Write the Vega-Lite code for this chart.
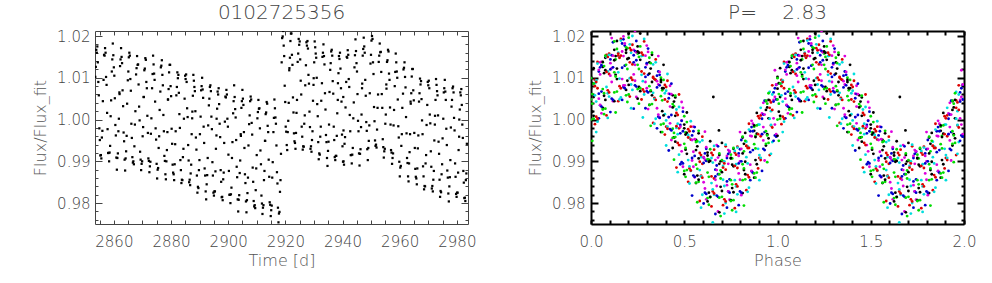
{
"$schema": "https://vega.github.io/schema/vega-lite/v6.json",
"background": "white",
"padding": {"left": 32, "top": 3, "right": 5, "bottom": 5},
"config": {
"font": "DejaVu Sans",
"view": {"stroke": null},
"axis": {"grid": false, "labelFont": "DejaVu Sans", "labelFontSize": 15, "labelFontWeight": 200, "labelColor": "#444", "titleFont": "DejaVu Sans", "titleFontSize": 16, "titleFontWeight": 200, "titleColor": "#555", "labelFlush": false, "labelOverlap": false, "tickSize": -4}
},
"data": {"values": [
{"t":2853.50,"p":0,"f":1.0102,"c":0},{"t":2853.68,"p":0.063,"f":1.0126,"c":0},{"t":2853.85,"p":0.125,"f":1.0167,"c":0},{"t":2854.03,"p":0.188,"f":1.0160,"c":0},{"t":2854.21,"p":0.25,"f":1.0175,"c":0},{"t":2854.38,"p":0.313,"f":1.0137,"c":0},{"t":2854.56,"p":0.375,"f":1.0090,"c":0},{"t":2854.74,"p":0.438,"f":1.0058,"c":0},{"t":2854.92,"p":0.5,"f":0.9979,"c":0},{"t":2855.09,"p":0.563,"f":0.9951,"c":0},{"t":2855.27,"p":0.625,"f":0.9914,"c":0},{"t":2855.45,"p":0.688,"f":0.9915,"c":0},{"t":2855.62,"p":0.75,"f":0.9907,"c":0},{"t":2855.80,"p":0.813,"f":0.9957,"c":0},{"t":2855.98,"p":0.875,"f":0.9973,"c":0},{"t":2856.15,"p":0.938,"f":1.0044,"c":0},
{"t":2856.39,"p":0.021,"f":1.0095,"c":1},{"t":2856.57,"p":0.083,"f":1.0155,"c":1},{"t":2856.74,"p":0.146,"f":1.0153,"c":1},{"t":2856.92,"p":0.208,"f":1.0171,"c":1},{"t":2857.10,"p":0.271,"f":1.0160,"c":1},{"t":2857.27,"p":0.333,"f":1.0102,"c":1},{"t":2857.45,"p":0.396,"f":1.0083,"c":1},{"t":2857.63,"p":0.458,"f":1.0016,"c":1},{"t":2857.80,"p":0.521,"f":0.9977,"c":1},{"t":2857.98,"p":0.583,"f":0.9920,"c":1},{"t":2858.16,"p":0.646,"f":0.9920,"c":1},{"t":2858.33,"p":0.708,"f":0.9900,"c":1},{"t":2858.51,"p":0.771,"f":0.9921,"c":1},{"t":2858.69,"p":0.833,"f":0.9937,"c":1},{"t":2858.87,"p":0.896,"f":1.0008,"c":1},{"t":2859.04,"p":0.958,"f":1.0046,"c":1},
{"t":2859.28,"p":0.042,"f":1.0115,"c":2},{"t":2859.45,"p":0.104,"f":1.0144,"c":2},{"t":2859.63,"p":0.167,"f":1.0182,"c":2},{"t":2859.81,"p":0.229,"f":1.0154,"c":2},{"t":2859.99,"p":0.292,"f":1.0125,"c":2},{"t":2860.16,"p":0.354,"f":1.0105,"c":2},{"t":2860.34,"p":0.417,"f":1.0051,"c":2},{"t":2860.52,"p":0.479,"f":0.9987,"c":2},{"t":2860.69,"p":0.542,"f":0.9962,"c":2},{"t":2860.87,"p":0.604,"f":0.9909,"c":2},{"t":2861.05,"p":0.667,"f":0.9880,"c":2},{"t":2861.22,"p":0.729,"f":0.9908,"c":2},{"t":2861.40,"p":0.792,"f":0.9919,"c":2},{"t":2861.58,"p":0.854,"f":0.9972,"c":2},{"t":2861.75,"p":0.917,"f":1.0002,"c":2},{"t":2861.93,"p":0.979,"f":1.0065,"c":2},
{"t":2861.99,"p":0.007,"f":1.0061,"c":3},{"t":2862.17,"p":0.070,"f":1.0128,"c":3},{"t":2862.34,"p":0.132,"f":1.0144,"c":3},{"t":2862.52,"p":0.195,"f":1.0171,"c":3},{"t":2862.70,"p":0.257,"f":1.0150,"c":3},{"t":2862.87,"p":0.320,"f":1.0135,"c":3},{"t":2863.05,"p":0.382,"f":1.0070,"c":3},{"t":2863.23,"p":0.445,"f":1.0032,"c":3},{"t":2863.41,"p":0.507,"f":0.9969,"c":3},{"t":2863.58,"p":0.570,"f":0.9948,"c":3},{"t":2863.76,"p":0.632,"f":0.9904,"c":3},{"t":2863.94,"p":0.695,"f":0.9878,"c":3},{"t":2864.11,"p":0.757,"f":0.9907,"c":3},{"t":2864.29,"p":0.820,"f":0.9924,"c":3},{"t":2864.47,"p":0.882,"f":0.9961,"c":3},{"t":2864.64,"p":0.945,"f":1.0038,"c":3},
{"t":2864.88,"p":0.028,"f":1.0094,"c":4},{"t":2865.06,"p":0.090,"f":1.0115,"c":4},{"t":2865.23,"p":0.153,"f":1.0149,"c":4},{"t":2865.41,"p":0.215,"f":1.0160,"c":4},{"t":2865.59,"p":0.278,"f":1.0153,"c":4},{"t":2865.76,"p":0.340,"f":1.0097,"c":4},{"t":2865.94,"p":0.403,"f":1.0069,"c":4},{"t":2866.12,"p":0.465,"f":0.9990,"c":4},{"t":2866.29,"p":0.528,"f":0.9956,"c":4},{"t":2866.47,"p":0.590,"f":0.9910,"c":4},{"t":2866.65,"p":0.653,"f":0.9897,"c":4},{"t":2866.82,"p":0.715,"f":0.9900,"c":4},{"t":2867.00,"p":0.778,"f":0.9893,"c":4},{"t":2867.18,"p":0.840,"f":0.9936,"c":4},{"t":2867.36,"p":0.903,"f":0.9988,"c":4},{"t":2867.53,"p":0.965,"f":1.0020,"c":4},
{"t":2867.77,"p":0.049,"f":1.0108,"c":5},{"t":2867.94,"p":0.111,"f":1.0123,"c":5},{"t":2868.12,"p":0.174,"f":1.0152,"c":5},{"t":2868.30,"p":0.236,"f":1.0131,"c":5},{"t":2868.48,"p":0.299,"f":1.0132,"c":5},{"t":2868.65,"p":0.361,"f":1.0084,"c":5},{"t":2868.83,"p":0.424,"f":1.0031,"c":5},{"t":2869.01,"p":0.486,"f":0.9998,"c":5},{"t":2869.18,"p":0.549,"f":0.9923,"c":5},{"t":2869.36,"p":0.611,"f":0.9904,"c":5},{"t":2869.54,"p":0.674,"f":0.9879,"c":5},{"t":2869.71,"p":0.736,"f":0.9894,"c":5},{"t":2869.89,"p":0.799,"f":0.9900,"c":5},{"t":2870.07,"p":0.861,"f":0.9960,"c":5},{"t":2870.24,"p":0.924,"f":0.9982,"c":5},{"t":2870.42,"p":0.986,"f":1.0054,"c":5},
{"t":2870.48,"p":0.014,"f":1.0054,"c":0},{"t":2870.66,"p":0.077,"f":1.0118,"c":0},{"t":2870.83,"p":0.139,"f":1.0122,"c":0},{"t":2871.01,"p":0.202,"f":1.0147,"c":0},{"t":2871.19,"p":0.264,"f":1.0143,"c":0},{"t":2871.36,"p":0.327,"f":1.0090,"c":0},{"t":2871.54,"p":0.389,"f":1.0075,"c":0},{"t":2871.72,"p":0.452,"f":1.0009,"c":0},{"t":2871.90,"p":0.514,"f":0.9968,"c":0},{"t":2872.07,"p":0.577,"f":0.9907,"c":0},{"t":2872.25,"p":0.639,"f":0.9901,"c":0},{"t":2872.43,"p":0.702,"f":0.9874,"c":0},{"t":2872.60,"p":0.764,"f":0.9888,"c":0},{"t":2872.78,"p":0.827,"f":0.9899,"c":0},{"t":2872.96,"p":0.889,"f":0.9966,"c":0},{"t":2873.13,"p":0.952,"f":1.0003,"c":0},
{"t":2873.37,"p":0.035,"f":1.0075,"c":1},{"t":2873.55,"p":0.097,"f":1.0109,"c":1},{"t":2873.72,"p":0.160,"f":1.0153,"c":1},{"t":2873.90,"p":0.222,"f":1.0132,"c":1},{"t":2874.08,"p":0.285,"f":1.0110,"c":1},{"t":2874.25,"p":0.347,"f":1.0095,"c":1},{"t":2874.43,"p":0.410,"f":1.0043,"c":1},{"t":2874.61,"p":0.472,"f":0.9979,"c":1},{"t":2874.78,"p":0.535,"f":0.9952,"c":1},{"t":2874.96,"p":0.597,"f":0.9894,"c":1},{"t":2875.14,"p":0.660,"f":0.9859,"c":1},{"t":2875.31,"p":0.722,"f":0.9880,"c":1},{"t":2875.49,"p":0.785,"f":0.9884,"c":1},{"t":2875.67,"p":0.847,"f":0.9932,"c":1},{"t":2875.85,"p":0.910,"f":0.9960,"c":1},{"t":2876.02,"p":0.972,"f":1.0023,"c":1},
{"t":2876.26,"p":0.056,"f":1.0067,"c":2},{"t":2876.43,"p":0.118,"f":1.0125,"c":2},{"t":2876.61,"p":0.181,"f":1.0129,"c":2},{"t":2876.79,"p":0.243,"f":1.0142,"c":2},{"t":2876.97,"p":0.306,"f":1.0107,"c":2},{"t":2877.14,"p":0.368,"f":1.0082,"c":2},{"t":2877.32,"p":0.431,"f":1.0011,"c":2},{"t":2877.50,"p":0.493,"f":0.9972,"c":2},{"t":2877.67,"p":0.556,"f":0.9913,"c":2},{"t":2877.85,"p":0.618,"f":0.9901,"c":2},{"t":2878.03,"p":0.681,"f":0.9869,"c":2},{"t":2878.20,"p":0.743,"f":0.9857,"c":2},{"t":2878.38,"p":0.806,"f":0.9900,"c":2},{"t":2878.56,"p":0.868,"f":0.9927,"c":2},{"t":2878.73,"p":0.931,"f":0.9970,"c":2},{"t":2878.91,"p":0.993,"f":1.0048,"c":2},
{"t":2878.97,"p":0,"f":1.0048,"c":3},{"t":2879.15,"p":0.063,"f":1.0073,"c":3},{"t":2879.32,"p":0.125,"f":1.0113,"c":3},{"t":2879.50,"p":0.188,"f":1.0131,"c":3},{"t":2879.68,"p":0.25,"f":1.0131,"c":3},{"t":2879.85,"p":0.313,"f":1.0080,"c":3},{"t":2880.03,"p":0.375,"f":1.0056,"c":3},{"t":2880.21,"p":0.438,"f":0.9978,"c":3},{"t":2880.39,"p":0.5,"f":0.9942,"c":3},{"t":2880.56,"p":0.563,"f":0.9892,"c":3},{"t":2880.74,"p":0.625,"f":0.9873,"c":3},{"t":2880.92,"p":0.688,"f":0.9869,"c":3},{"t":2881.09,"p":0.75,"f":0.9855,"c":3},{"t":2881.27,"p":0.813,"f":0.9893,"c":3},{"t":2881.45,"p":0.875,"f":0.9941,"c":3},{"t":2881.62,"p":0.938,"f":0.9972,"c":3},
{"t":2881.86,"p":0.021,"f":1.0058,"c":4},{"t":2882.04,"p":0.083,"f":1.0078,"c":4},{"t":2882.21,"p":0.146,"f":1.0113,"c":4},{"t":2882.39,"p":0.208,"f":1.0099,"c":4},{"t":2882.57,"p":0.271,"f":1.0107,"c":4},{"t":2882.74,"p":0.333,"f":1.0064,"c":4},{"t":2882.92,"p":0.396,"f":1.0013,"c":4},{"t":2883.10,"p":0.458,"f":0.9980,"c":4},{"t":2883.27,"p":0.521,"f":0.9903,"c":4},{"t":2883.45,"p":0.583,"f":0.9879,"c":4},{"t":2883.63,"p":0.646,"f":0.9848,"c":4},{"t":2883.80,"p":0.708,"f":0.9856,"c":4},{"t":2883.98,"p":0.771,"f":0.9855,"c":4},{"t":2884.16,"p":0.833,"f":0.9910,"c":4},{"t":2884.34,"p":0.896,"f":0.9930,"c":4},{"t":2884.51,"p":0.958,"f":1.0002,"c":4},
{"t":2884.75,"p":0.042,"f":1.0050,"c":5},{"t":2884.92,"p":0.104,"f":1.0105,"c":5},{"t":2885.10,"p":0.167,"f":1.0097,"c":5},{"t":2885.28,"p":0.229,"f":1.0108,"c":5},{"t":2885.46,"p":0.292,"f":1.0090,"c":5},{"t":2885.63,"p":0.354,"f":1.0027,"c":5},{"t":2885.81,"p":0.417,"f":1.0006,"c":5},{"t":2885.99,"p":0.479,"f":0.9939,"c":5},{"t":2886.16,"p":0.542,"f":0.9902,"c":5},{"t":2886.34,"p":0.604,"f":0.9850,"c":5},{"t":2886.52,"p":0.667,"f":0.9856,"c":5},{"t":2886.69,"p":0.729,"f":0.9843,"c":5},{"t":2886.87,"p":0.792,"f":0.9871,"c":5},{"t":2887.05,"p":0.854,"f":0.9892,"c":5},{"t":2887.22,"p":0.917,"f":0.9965,"c":5},{"t":2887.40,"p":0.979,"f":1.0003,"c":5},
{"t":2887.46,"p":0.007,"f":1.0019,"c":0},{"t":2887.64,"p":0.070,"f":1.0057,"c":0},{"t":2887.81,"p":0.132,"f":1.0107,"c":0},{"t":2887.99,"p":0.195,"f":1.0093,"c":0},{"t":2888.17,"p":0.257,"f":1.0078,"c":0},{"t":2888.34,"p":0.320,"f":1.0068,"c":0},{"t":2888.52,"p":0.382,"f":1.0020,"c":0},{"t":2888.70,"p":0.445,"f":0.9957,"c":0},{"t":2888.88,"p":0.507,"f":0.9928,"c":0},{"t":2889.05,"p":0.570,"f":0.9866,"c":0},{"t":2889.23,"p":0.632,"f":0.9825,"c":0},{"t":2889.41,"p":0.695,"f":0.9839,"c":0},{"t":2889.58,"p":0.757,"f":0.9836,"c":0},{"t":2889.76,"p":0.820,"f":0.9879,"c":0},{"t":2889.94,"p":0.882,"f":0.9903,"c":0},{"t":2890.11,"p":0.945,"f":0.9965,"c":0},
{"t":2890.35,"p":0.028,"f":1.0007,"c":1},{"t":2890.53,"p":0.090,"f":1.0070,"c":1},{"t":2890.70,"p":0.153,"f":1.0080,"c":1},{"t":2890.88,"p":0.215,"f":1.0100,"c":1},{"t":2891.06,"p":0.278,"f":1.0072,"c":1},{"t":2891.23,"p":0.340,"f":1.0052,"c":1},{"t":2891.41,"p":0.403,"f":0.9983,"c":1},{"t":2891.59,"p":0.465,"f":0.9944,"c":1},{"t":2891.76,"p":0.528,"f":0.9883,"c":1},{"t":2891.94,"p":0.590,"f":0.9866,"c":1},{"t":2892.12,"p":0.653,"f":0.9828,"c":1},{"t":2892.29,"p":0.715,"f":0.9809,"c":1},{"t":2892.47,"p":0.778,"f":0.9845,"c":1},{"t":2892.65,"p":0.840,"f":0.9867,"c":1},{"t":2892.83,"p":0.903,"f":0.9908,"c":1},{"t":2893.00,"p":0.965,"f":0.9986,"c":1},
{"t":2893.24,"p":0.049,"f":1.0034,"c":2},{"t":2893.41,"p":0.111,"f":1.0050,"c":2},{"t":2893.59,"p":0.174,"f":1.0078,"c":2},{"t":2893.77,"p":0.236,"f":1.0082,"c":2},{"t":2893.95,"p":0.299,"f":1.0068,"c":2},{"t":2894.12,"p":0.361,"f":1.0007,"c":2},{"t":2894.30,"p":0.424,"f":0.9977,"c":2},{"t":2894.48,"p":0.486,"f":0.9898,"c":2},{"t":2894.65,"p":0.549,"f":0.9866,"c":2},{"t":2894.83,"p":0.611,"f":0.9825,"c":2},{"t":2895.01,"p":0.674,"f":0.9818,"c":2},{"t":2895.18,"p":0.736,"f":0.9828,"c":2},{"t":2895.36,"p":0.799,"f":0.9828,"c":2},{"t":2895.54,"p":0.861,"f":0.9876,"c":2},{"t":2895.71,"p":0.924,"f":0.9930,"c":2},{"t":2895.89,"p":0.986,"f":0.9962,"c":2},
{"t":2895.95,"p":0.014,"f":1.0002,"c":3},{"t":2896.13,"p":0.077,"f":1.0026,"c":3},{"t":2896.30,"p":0.139,"f":1.0067,"c":3},{"t":2896.48,"p":0.202,"f":1.0060,"c":3},{"t":2896.66,"p":0.264,"f":1.0075,"c":3},{"t":2896.83,"p":0.327,"f":1.0037,"c":3},{"t":2897.01,"p":0.389,"f":0.9990,"c":3},{"t":2897.19,"p":0.452,"f":0.9958,"c":3},{"t":2897.37,"p":0.514,"f":0.9879,"c":3},{"t":2897.54,"p":0.577,"f":0.9851,"c":3},{"t":2897.72,"p":0.639,"f":0.9814,"c":3},{"t":2897.90,"p":0.702,"f":0.9815,"c":3},{"t":2898.07,"p":0.764,"f":0.9807,"c":3},{"t":2898.25,"p":0.827,"f":0.9857,"c":3},{"t":2898.43,"p":0.889,"f":0.9873,"c":3},{"t":2898.60,"p":0.952,"f":0.9944,"c":3},
{"t":2898.84,"p":0.035,"f":0.9995,"c":4},{"t":2899.02,"p":0.097,"f":1.0055,"c":4},{"t":2899.19,"p":0.160,"f":1.0053,"c":4},{"t":2899.37,"p":0.222,"f":1.0071,"c":4},{"t":2899.55,"p":0.285,"f":1.0060,"c":4},{"t":2899.72,"p":0.347,"f":1.0002,"c":4},{"t":2899.90,"p":0.410,"f":0.9983,"c":4},{"t":2900.08,"p":0.472,"f":0.9916,"c":4},{"t":2900.25,"p":0.535,"f":0.9877,"c":4},{"t":2900.43,"p":0.597,"f":0.9820,"c":4},{"t":2900.61,"p":0.660,"f":0.9820,"c":4},{"t":2900.78,"p":0.722,"f":0.9800,"c":4},{"t":2900.96,"p":0.785,"f":0.9821,"c":4},{"t":2901.14,"p":0.847,"f":0.9837,"c":4},{"t":2901.32,"p":0.910,"f":0.9908,"c":4},{"t":2901.49,"p":0.972,"f":0.9946,"c":4},
{"t":2901.73,"p":0.056,"f":1.0015,"c":5},{"t":2901.90,"p":0.118,"f":1.0044,"c":5},{"t":2902.08,"p":0.181,"f":1.0082,"c":5},{"t":2902.26,"p":0.243,"f":1.0054,"c":5},{"t":2902.44,"p":0.306,"f":1.0025,"c":5},{"t":2902.61,"p":0.368,"f":1.0005,"c":5},{"t":2902.79,"p":0.431,"f":0.9951,"c":5},{"t":2902.97,"p":0.493,"f":0.9887,"c":5},{"t":2903.14,"p":0.556,"f":0.9862,"c":5},{"t":2903.32,"p":0.618,"f":0.9809,"c":5},{"t":2903.50,"p":0.681,"f":0.9780,"c":5},{"t":2903.67,"p":0.743,"f":0.9808,"c":5},{"t":2903.85,"p":0.806,"f":0.9819,"c":5},{"t":2904.03,"p":0.868,"f":0.9872,"c":5},{"t":2904.20,"p":0.931,"f":0.9902,"c":5},{"t":2904.38,"p":0.993,"f":0.9965,"c":5},
{"t":2904.44,"p":0,"f":0.9961,"c":0},{"t":2904.62,"p":0.063,"f":1.0028,"c":0},{"t":2904.79,"p":0.125,"f":1.0044,"c":0},{"t":2904.97,"p":0.188,"f":1.0071,"c":0},{"t":2905.15,"p":0.25,"f":1.0050,"c":0},{"t":2905.32,"p":0.313,"f":1.0035,"c":0},{"t":2905.50,"p":0.375,"f":0.9970,"c":0},{"t":2905.68,"p":0.438,"f":0.9932,"c":0},{"t":2905.86,"p":0.5,"f":0.9869,"c":0},{"t":2906.03,"p":0.563,"f":0.9848,"c":0},{"t":2906.21,"p":0.625,"f":0.9804,"c":0},{"t":2906.39,"p":0.688,"f":0.9778,"c":0},{"t":2906.56,"p":0.75,"f":0.9807,"c":0},{"t":2906.74,"p":0.813,"f":0.9824,"c":0},{"t":2906.92,"p":0.875,"f":0.9861,"c":0},{"t":2907.09,"p":0.938,"f":0.9938,"c":0},
{"t":2907.33,"p":0.021,"f":0.9989,"c":1},{"t":2907.51,"p":0.083,"f":1.0010,"c":1},{"t":2907.68,"p":0.146,"f":1.0044,"c":1},{"t":2907.86,"p":0.208,"f":1.0055,"c":1},{"t":2908.04,"p":0.271,"f":1.0048,"c":1},{"t":2908.21,"p":0.333,"f":0.9992,"c":1},{"t":2908.39,"p":0.396,"f":0.9964,"c":1},{"t":2908.57,"p":0.458,"f":0.9885,"c":1},{"t":2908.74,"p":0.521,"f":0.9851,"c":1},{"t":2908.92,"p":0.583,"f":0.9805,"c":1},{"t":2909.10,"p":0.646,"f":0.9792,"c":1},{"t":2909.27,"p":0.708,"f":0.9795,"c":1},{"t":2909.45,"p":0.771,"f":0.9788,"c":1},{"t":2909.63,"p":0.833,"f":0.9831,"c":1},{"t":2909.81,"p":0.896,"f":0.9883,"c":1},{"t":2909.98,"p":0.958,"f":0.9915,"c":1},
{"t":2910.22,"p":0.042,"f":1.0003,"c":2},{"t":2910.39,"p":0.104,"f":1.0018,"c":2},{"t":2910.57,"p":0.167,"f":1.0047,"c":2},{"t":2910.75,"p":0.229,"f":1.0026,"c":2},{"t":2910.93,"p":0.292,"f":1.0027,"c":2},{"t":2911.10,"p":0.354,"f":0.9979,"c":2},{"t":2911.28,"p":0.417,"f":0.9926,"c":2},{"t":2911.46,"p":0.479,"f":0.9893,"c":2},{"t":2911.63,"p":0.542,"f":0.9818,"c":2},{"t":2911.81,"p":0.604,"f":0.9799,"c":2},{"t":2911.99,"p":0.667,"f":0.9774,"c":2},{"t":2912.16,"p":0.729,"f":0.9789,"c":2},{"t":2912.34,"p":0.792,"f":0.9795,"c":2},{"t":2912.52,"p":0.854,"f":0.9855,"c":2},{"t":2912.69,"p":0.917,"f":0.9877,"c":2},{"t":2912.87,"p":0.979,"f":0.9949,"c":2},
{"t":2912.93,"p":0.007,"f":0.9949,"c":3},{"t":2913.11,"p":0.070,"f":1.0013,"c":3},{"t":2913.28,"p":0.132,"f":1.0017,"c":3},{"t":2913.46,"p":0.195,"f":1.0042,"c":3},{"t":2913.64,"p":0.257,"f":1.0038,"c":3},{"t":2913.81,"p":0.320,"f":0.9985,"c":3},{"t":2913.99,"p":0.382,"f":0.9970,"c":3},{"t":2914.17,"p":0.445,"f":0.9904,"c":3},{"t":2914.35,"p":0.507,"f":0.9863,"c":3},{"t":2914.52,"p":0.570,"f":0.9802,"c":3},{"t":2914.70,"p":0.632,"f":0.9796,"c":3},{"t":2914.88,"p":0.695,"f":0.9769,"c":3},{"t":2915.05,"p":0.757,"f":0.9783,"c":3},{"t":2915.23,"p":0.820,"f":0.9794,"c":3},{"t":2915.41,"p":0.882,"f":0.9861,"c":3},{"t":2915.58,"p":0.945,"f":0.9898,"c":3},
{"t":2915.82,"p":0.028,"f":0.9970,"c":4},{"t":2916.00,"p":0.090,"f":1.0004,"c":4},{"t":2916.17,"p":0.153,"f":1.0048,"c":4},{"t":2916.35,"p":0.215,"f":1.0027,"c":4},{"t":2916.53,"p":0.278,"f":1.0005,"c":4},{"t":2916.70,"p":0.340,"f":0.9990,"c":4},{"t":2916.88,"p":0.403,"f":0.9938,"c":4},{"t":2917.06,"p":0.465,"f":0.9874,"c":4},{"t":2917.23,"p":0.528,"f":0.9847,"c":4},{"t":2917.41,"p":0.590,"f":0.9789,"c":4},{"t":2917.59,"p":0.653,"f":0.9754,"c":4},{"t":2917.76,"p":0.715,"f":0.9775,"c":4},{"t":2917.94,"p":0.778,"f":0.9779,"c":4},{"t":2918.12,"p":0.840,"f":0.9827,"c":4},{"t":2918.30,"p":0.903,"f":0.9855,"c":4},{"t":2918.47,"p":0.965,"f":0.9918,"c":4},
{"t":2918.71,"p":0.049,"f":1.0137,"c":5},{"t":2918.88,"p":0.111,"f":1.0195,"c":5},{"t":2919.06,"p":0.174,"f":1.0199,"c":5},{"t":2919.24,"p":0.236,"f":1.0212,"c":5},{"t":2919.42,"p":0.299,"f":1.0177,"c":5},{"t":2919.59,"p":0.361,"f":1.0152,"c":5},{"t":2919.77,"p":0.424,"f":1.0081,"c":5},{"t":2919.95,"p":0.486,"f":1.0042,"c":5},{"t":2920.12,"p":0.549,"f":0.9983,"c":5},{"t":2920.30,"p":0.611,"f":0.9971,"c":5},{"t":2920.48,"p":0.674,"f":0.9939,"c":5},{"t":2920.65,"p":0.736,"f":0.9927,"c":5},{"t":2920.83,"p":0.799,"f":0.9970,"c":5},{"t":2921.01,"p":0.861,"f":0.9997,"c":5},{"t":2921.18,"p":0.924,"f":1.0040,"c":5},{"t":2921.36,"p":0.986,"f":1.0118,"c":5},
{"t":2921.42,"p":0.014,"f":1.0123,"c":0},{"t":2921.60,"p":0.077,"f":1.0148,"c":0},{"t":2921.77,"p":0.139,"f":1.0188,"c":0},{"t":2921.95,"p":0.202,"f":1.0206,"c":0},{"t":2922.13,"p":0.264,"f":1.0206,"c":0},{"t":2922.30,"p":0.327,"f":1.0155,"c":0},{"t":2922.48,"p":0.389,"f":1.0131,"c":0},{"t":2922.66,"p":0.452,"f":1.0053,"c":0},{"t":2922.84,"p":0.514,"f":1.0017,"c":0},{"t":2923.01,"p":0.577,"f":0.9967,"c":0},{"t":2923.19,"p":0.639,"f":0.9948,"c":0},{"t":2923.37,"p":0.702,"f":0.9944,"c":0},{"t":2923.54,"p":0.764,"f":0.9930,"c":0},{"t":2923.72,"p":0.827,"f":0.9968,"c":0},{"t":2923.90,"p":0.889,"f":1.0016,"c":0},{"t":2924.07,"p":0.952,"f":1.0047,"c":0},
{"t":2924.31,"p":0.035,"f":1.0138,"c":1},{"t":2924.49,"p":0.097,"f":1.0158,"c":1},{"t":2924.66,"p":0.160,"f":1.0193,"c":1},{"t":2924.84,"p":0.222,"f":1.0179,"c":1},{"t":2925.02,"p":0.285,"f":1.0187,"c":1},{"t":2925.19,"p":0.347,"f":1.0144,"c":1},{"t":2925.37,"p":0.410,"f":1.0093,"c":1},{"t":2925.55,"p":0.472,"f":1.0060,"c":1},{"t":2925.72,"p":0.535,"f":0.9983,"c":1},{"t":2925.90,"p":0.597,"f":0.9959,"c":1},{"t":2926.08,"p":0.660,"f":0.9928,"c":1},{"t":2926.25,"p":0.722,"f":0.9936,"c":1},{"t":2926.43,"p":0.785,"f":0.9935,"c":1},{"t":2926.61,"p":0.847,"f":0.9990,"c":1},{"t":2926.79,"p":0.910,"f":1.0010,"c":1},{"t":2926.96,"p":0.972,"f":1.0082,"c":1},
{"t":2927.20,"p":0.056,"f":1.0130,"c":2},{"t":2927.37,"p":0.118,"f":1.0185,"c":2},{"t":2927.55,"p":0.181,"f":1.0177,"c":2},{"t":2927.73,"p":0.243,"f":1.0188,"c":2},{"t":2927.91,"p":0.306,"f":1.0170,"c":2},{"t":2928.08,"p":0.368,"f":1.0107,"c":2},{"t":2928.26,"p":0.431,"f":1.0086,"c":2},{"t":2928.44,"p":0.493,"f":1.0019,"c":2},{"t":2928.61,"p":0.556,"f":0.9982,"c":2},{"t":2928.79,"p":0.618,"f":0.9930,"c":2},{"t":2928.97,"p":0.681,"f":0.9936,"c":2},{"t":2929.14,"p":0.743,"f":0.9923,"c":2},{"t":2929.32,"p":0.806,"f":0.9951,"c":2},{"t":2929.50,"p":0.868,"f":0.9972,"c":2},{"t":2929.67,"p":0.931,"f":1.0045,"c":2},{"t":2929.85,"p":0.993,"f":1.0083,"c":2},
{"t":2929.91,"p":0,"f":1.0099,"c":3},{"t":2930.09,"p":0.063,"f":1.0137,"c":3},{"t":2930.26,"p":0.125,"f":1.0187,"c":3},{"t":2930.44,"p":0.188,"f":1.0173,"c":3},{"t":2930.62,"p":0.25,"f":1.0158,"c":3},{"t":2930.79,"p":0.313,"f":1.0148,"c":3},{"t":2930.97,"p":0.375,"f":1.0100,"c":3},{"t":2931.15,"p":0.438,"f":1.0037,"c":3},{"t":2931.33,"p":0.5,"f":1.0008,"c":3},{"t":2931.50,"p":0.563,"f":0.9946,"c":3},{"t":2931.68,"p":0.625,"f":0.9905,"c":3},{"t":2931.86,"p":0.688,"f":0.9919,"c":3},{"t":2932.03,"p":0.75,"f":0.9916,"c":3},{"t":2932.21,"p":0.813,"f":0.9959,"c":3},{"t":2932.39,"p":0.875,"f":0.9983,"c":3},{"t":2932.56,"p":0.938,"f":1.0045,"c":3},
{"t":2932.80,"p":0.021,"f":1.0087,"c":4},{"t":2932.98,"p":0.083,"f":1.0150,"c":4},{"t":2933.15,"p":0.146,"f":1.0160,"c":4},{"t":2933.33,"p":0.208,"f":1.0180,"c":4},{"t":2933.51,"p":0.271,"f":1.0152,"c":4},{"t":2933.68,"p":0.333,"f":1.0132,"c":4},{"t":2933.86,"p":0.396,"f":1.0063,"c":4},{"t":2934.04,"p":0.458,"f":1.0024,"c":4},{"t":2934.21,"p":0.521,"f":0.9963,"c":4},{"t":2934.39,"p":0.583,"f":0.9946,"c":4},{"t":2934.57,"p":0.646,"f":0.9908,"c":4},{"t":2934.74,"p":0.708,"f":0.9889,"c":4},{"t":2934.92,"p":0.771,"f":0.9925,"c":4},{"t":2935.10,"p":0.833,"f":0.9947,"c":4},{"t":2935.28,"p":0.896,"f":0.9988,"c":4},{"t":2935.45,"p":0.958,"f":1.0066,"c":4},
{"t":2935.69,"p":0.042,"f":1.0119,"c":5},{"t":2935.86,"p":0.104,"f":1.0135,"c":5},{"t":2936.04,"p":0.167,"f":1.0163,"c":5},{"t":2936.22,"p":0.229,"f":1.0167,"c":5},{"t":2936.40,"p":0.292,"f":1.0153,"c":5},{"t":2936.57,"p":0.354,"f":1.0092,"c":5},{"t":2936.75,"p":0.417,"f":1.0062,"c":5},{"t":2936.93,"p":0.479,"f":0.9983,"c":5},{"t":2937.10,"p":0.542,"f":0.9951,"c":5},{"t":2937.28,"p":0.604,"f":0.9910,"c":5},{"t":2937.46,"p":0.667,"f":0.9903,"c":5},{"t":2937.63,"p":0.729,"f":0.9913,"c":5},{"t":2937.81,"p":0.792,"f":0.9913,"c":5},{"t":2937.99,"p":0.854,"f":0.9961,"c":5},{"t":2938.16,"p":0.917,"f":1.0015,"c":5},{"t":2938.34,"p":0.979,"f":1.0047,"c":5},
{"t":2938.40,"p":0.007,"f":1.0087,"c":0},{"t":2938.58,"p":0.070,"f":1.0111,"c":0},{"t":2938.75,"p":0.132,"f":1.0152,"c":0},{"t":2938.93,"p":0.195,"f":1.0145,"c":0},{"t":2939.11,"p":0.257,"f":1.0160,"c":0},{"t":2939.28,"p":0.320,"f":1.0122,"c":0},{"t":2939.46,"p":0.382,"f":1.0075,"c":0},{"t":2939.64,"p":0.445,"f":1.0043,"c":0},{"t":2939.82,"p":0.507,"f":0.9964,"c":0},{"t":2939.99,"p":0.570,"f":0.9936,"c":0},{"t":2940.17,"p":0.632,"f":0.9899,"c":0},{"t":2940.35,"p":0.695,"f":0.9900,"c":0},{"t":2940.52,"p":0.757,"f":0.9892,"c":0},{"t":2940.70,"p":0.820,"f":0.9942,"c":0},{"t":2940.88,"p":0.882,"f":0.9958,"c":0},{"t":2941.05,"p":0.945,"f":1.0029,"c":0},
{"t":2940.26,"p":0.656,"f":1.0054,"c":0},{"t":2940.34,"p":0.686,"f":0.9974,"c":0},
{"t":2941.29,"p":0.028,"f":1.0090,"c":1},{"t":2941.47,"p":0.090,"f":1.0150,"c":1},{"t":2941.64,"p":0.153,"f":1.0148,"c":1},{"t":2941.82,"p":0.215,"f":1.0166,"c":1},{"t":2942.00,"p":0.278,"f":1.0155,"c":1},{"t":2942.17,"p":0.340,"f":1.0097,"c":1},{"t":2942.35,"p":0.403,"f":1.0078,"c":1},{"t":2942.53,"p":0.465,"f":1.0011,"c":1},{"t":2942.70,"p":0.528,"f":0.9972,"c":1},{"t":2942.88,"p":0.590,"f":0.9915,"c":1},{"t":2943.06,"p":0.653,"f":0.9915,"c":1},{"t":2943.23,"p":0.715,"f":0.9895,"c":1},{"t":2943.41,"p":0.778,"f":0.9916,"c":1},{"t":2943.59,"p":0.840,"f":0.9932,"c":1},{"t":2943.77,"p":0.903,"f":1.0003,"c":1},{"t":2943.94,"p":0.965,"f":1.0041,"c":1},
{"t":2944.18,"p":0.049,"f":1.0125,"c":2},{"t":2944.35,"p":0.111,"f":1.0154,"c":2},{"t":2944.53,"p":0.174,"f":1.0192,"c":2},{"t":2944.71,"p":0.236,"f":1.0164,"c":2},{"t":2944.89,"p":0.299,"f":1.0135,"c":2},{"t":2945.06,"p":0.361,"f":1.0115,"c":2},{"t":2945.24,"p":0.424,"f":1.0061,"c":2},{"t":2945.42,"p":0.486,"f":0.9997,"c":2},{"t":2945.59,"p":0.549,"f":0.9972,"c":2},{"t":2945.77,"p":0.611,"f":0.9919,"c":2},{"t":2945.95,"p":0.674,"f":0.9890,"c":2},{"t":2946.12,"p":0.736,"f":0.9918,"c":2},{"t":2946.30,"p":0.799,"f":0.9929,"c":2},{"t":2946.48,"p":0.861,"f":0.9982,"c":2},{"t":2946.65,"p":0.924,"f":1.0012,"c":2},{"t":2946.83,"p":0.986,"f":1.0075,"c":2},
{"t":2946.89,"p":0.014,"f":1.0086,"c":3},{"t":2947.07,"p":0.077,"f":1.0153,"c":3},{"t":2947.24,"p":0.139,"f":1.0169,"c":3},{"t":2947.42,"p":0.202,"f":1.0196,"c":3},{"t":2947.60,"p":0.264,"f":1.0175,"c":3},{"t":2947.77,"p":0.327,"f":1.0160,"c":3},{"t":2947.95,"p":0.389,"f":1.0095,"c":3},{"t":2948.13,"p":0.452,"f":1.0057,"c":3},{"t":2948.31,"p":0.514,"f":0.9994,"c":3},{"t":2948.48,"p":0.577,"f":0.9973,"c":3},{"t":2948.66,"p":0.639,"f":0.9929,"c":3},{"t":2948.84,"p":0.702,"f":0.9903,"c":3},{"t":2949.01,"p":0.764,"f":0.9932,"c":3},{"t":2949.19,"p":0.827,"f":0.9949,"c":3},{"t":2949.37,"p":0.889,"f":0.9986,"c":3},{"t":2949.54,"p":0.952,"f":1.0063,"c":3},
{"t":2949.78,"p":0.035,"f":1.0134,"c":4},{"t":2949.96,"p":0.097,"f":1.0155,"c":4},{"t":2950.13,"p":0.160,"f":1.0189,"c":4},{"t":2950.31,"p":0.222,"f":1.0200,"c":4},{"t":2950.49,"p":0.285,"f":1.0193,"c":4},{"t":2950.66,"p":0.347,"f":1.0137,"c":4},{"t":2950.84,"p":0.410,"f":1.0109,"c":4},{"t":2951.02,"p":0.472,"f":1.0030,"c":4},{"t":2951.19,"p":0.535,"f":0.9996,"c":4},{"t":2951.37,"p":0.597,"f":0.9950,"c":4},{"t":2951.55,"p":0.660,"f":0.9937,"c":4},{"t":2951.72,"p":0.722,"f":0.9940,"c":4},{"t":2951.90,"p":0.785,"f":0.9933,"c":4},{"t":2952.08,"p":0.847,"f":0.9976,"c":4},{"t":2952.26,"p":0.910,"f":1.0028,"c":4},{"t":2952.43,"p":0.972,"f":1.0060,"c":4},
{"t":2952.67,"p":0.056,"f":1.0138,"c":5},{"t":2952.84,"p":0.118,"f":1.0153,"c":5},{"t":2953.02,"p":0.181,"f":1.0182,"c":5},{"t":2953.20,"p":0.243,"f":1.0161,"c":5},{"t":2953.38,"p":0.306,"f":1.0162,"c":5},{"t":2953.55,"p":0.368,"f":1.0114,"c":5},{"t":2953.73,"p":0.431,"f":1.0061,"c":5},{"t":2953.91,"p":0.493,"f":1.0028,"c":5},{"t":2954.08,"p":0.556,"f":0.9953,"c":5},{"t":2954.26,"p":0.618,"f":0.9934,"c":5},{"t":2954.44,"p":0.681,"f":0.9909,"c":5},{"t":2954.61,"p":0.743,"f":0.9924,"c":5},{"t":2954.79,"p":0.806,"f":0.9930,"c":5},{"t":2954.97,"p":0.868,"f":0.9990,"c":5},{"t":2955.14,"p":0.931,"f":1.0012,"c":5},{"t":2955.32,"p":0.993,"f":1.0084,"c":5},
{"t":2955.38,"p":0,"f":1.0074,"c":0},{"t":2955.56,"p":0.063,"f":1.0138,"c":0},{"t":2955.73,"p":0.125,"f":1.0142,"c":0},{"t":2955.91,"p":0.188,"f":1.0167,"c":0},{"t":2956.09,"p":0.25,"f":1.0163,"c":0},{"t":2956.26,"p":0.313,"f":1.0110,"c":0},{"t":2956.44,"p":0.375,"f":1.0095,"c":0},{"t":2956.62,"p":0.438,"f":1.0029,"c":0},{"t":2956.80,"p":0.5,"f":0.9988,"c":0},{"t":2956.97,"p":0.563,"f":0.9927,"c":0},{"t":2957.15,"p":0.625,"f":0.9921,"c":0},{"t":2957.33,"p":0.688,"f":0.9894,"c":0},{"t":2957.50,"p":0.75,"f":0.9908,"c":0},{"t":2957.68,"p":0.813,"f":0.9919,"c":0},{"t":2957.86,"p":0.875,"f":0.9986,"c":0},{"t":2958.03,"p":0.938,"f":1.0023,"c":0},
{"t":2958.27,"p":0.021,"f":1.0080,"c":1},{"t":2958.45,"p":0.083,"f":1.0114,"c":1},{"t":2958.62,"p":0.146,"f":1.0158,"c":1},{"t":2958.80,"p":0.208,"f":1.0137,"c":1},{"t":2958.98,"p":0.271,"f":1.0115,"c":1},{"t":2959.15,"p":0.333,"f":1.0100,"c":1},{"t":2959.33,"p":0.396,"f":1.0048,"c":1},{"t":2959.51,"p":0.458,"f":0.9984,"c":1},{"t":2959.68,"p":0.521,"f":0.9957,"c":1},{"t":2959.86,"p":0.583,"f":0.9899,"c":1},{"t":2960.04,"p":0.646,"f":0.9864,"c":1},{"t":2960.21,"p":0.708,"f":0.9885,"c":1},{"t":2960.39,"p":0.771,"f":0.9889,"c":1},{"t":2960.57,"p":0.833,"f":0.9937,"c":1},{"t":2960.75,"p":0.896,"f":0.9965,"c":1},{"t":2960.92,"p":0.958,"f":1.0028,"c":1},
{"t":2961.16,"p":0.042,"f":1.0062,"c":2},{"t":2961.33,"p":0.104,"f":1.0120,"c":2},{"t":2961.51,"p":0.167,"f":1.0124,"c":2},{"t":2961.69,"p":0.229,"f":1.0137,"c":2},{"t":2961.87,"p":0.292,"f":1.0102,"c":2},{"t":2962.04,"p":0.354,"f":1.0077,"c":2},{"t":2962.22,"p":0.417,"f":1.0006,"c":2},{"t":2962.40,"p":0.479,"f":0.9967,"c":2},{"t":2962.57,"p":0.542,"f":0.9908,"c":2},{"t":2962.75,"p":0.604,"f":0.9896,"c":2},{"t":2962.93,"p":0.667,"f":0.9864,"c":2},{"t":2963.10,"p":0.729,"f":0.9852,"c":2},{"t":2963.28,"p":0.792,"f":0.9895,"c":2},{"t":2963.46,"p":0.854,"f":0.9922,"c":2},{"t":2963.63,"p":0.917,"f":0.9965,"c":2},{"t":2963.81,"p":0.979,"f":1.0043,"c":2},
{"t":2963.87,"p":0.007,"f":1.0038,"c":3},{"t":2964.05,"p":0.070,"f":1.0063,"c":3},{"t":2964.22,"p":0.132,"f":1.0103,"c":3},{"t":2964.40,"p":0.195,"f":1.0121,"c":3},{"t":2964.58,"p":0.257,"f":1.0121,"c":3},{"t":2964.75,"p":0.320,"f":1.0070,"c":3},{"t":2964.93,"p":0.382,"f":1.0046,"c":3},{"t":2965.11,"p":0.445,"f":0.9968,"c":3},{"t":2965.29,"p":0.507,"f":0.9932,"c":3},{"t":2965.46,"p":0.570,"f":0.9882,"c":3},{"t":2965.64,"p":0.632,"f":0.9863,"c":3},{"t":2965.82,"p":0.695,"f":0.9859,"c":3},{"t":2965.99,"p":0.757,"f":0.9845,"c":3},{"t":2966.17,"p":0.820,"f":0.9883,"c":3},{"t":2966.35,"p":0.882,"f":0.9931,"c":3},{"t":2966.52,"p":0.945,"f":0.9962,"c":3},
{"t":2966.76,"p":0.028,"f":1.0043,"c":4},{"t":2966.94,"p":0.090,"f":1.0063,"c":4},{"t":2967.11,"p":0.153,"f":1.0098,"c":4},{"t":2967.29,"p":0.215,"f":1.0084,"c":4},{"t":2967.47,"p":0.278,"f":1.0092,"c":4},{"t":2967.64,"p":0.340,"f":1.0049,"c":4},{"t":2967.82,"p":0.403,"f":0.9998,"c":4},{"t":2968.00,"p":0.465,"f":0.9965,"c":4},{"t":2968.17,"p":0.528,"f":0.9888,"c":4},{"t":2968.35,"p":0.590,"f":0.9864,"c":4},{"t":2968.53,"p":0.653,"f":0.9833,"c":4},{"t":2968.70,"p":0.715,"f":0.9841,"c":4},{"t":2968.88,"p":0.778,"f":0.9840,"c":4},{"t":2969.06,"p":0.840,"f":0.9895,"c":4},{"t":2969.24,"p":0.903,"f":0.9915,"c":4},{"t":2969.41,"p":0.965,"f":0.9987,"c":4},
{"t":2969.65,"p":0.049,"f":1.0035,"c":5},{"t":2969.82,"p":0.111,"f":1.0090,"c":5},{"t":2970.00,"p":0.174,"f":1.0082,"c":5},{"t":2970.18,"p":0.236,"f":1.0093,"c":5},{"t":2970.36,"p":0.299,"f":1.0075,"c":5},{"t":2970.53,"p":0.361,"f":1.0012,"c":5},{"t":2970.71,"p":0.424,"f":0.9991,"c":5},{"t":2970.89,"p":0.486,"f":0.9924,"c":5},{"t":2971.06,"p":0.549,"f":0.9887,"c":5},{"t":2971.24,"p":0.611,"f":0.9835,"c":5},{"t":2971.42,"p":0.674,"f":0.9841,"c":5},{"t":2971.59,"p":0.736,"f":0.9828,"c":5},{"t":2971.77,"p":0.799,"f":0.9856,"c":5},{"t":2971.95,"p":0.861,"f":0.9877,"c":5},{"t":2972.12,"p":0.924,"f":0.9950,"c":5},{"t":2972.30,"p":0.986,"f":0.9988,"c":5},
{"t":2972.36,"p":0.014,"f":1.0009,"c":0},{"t":2972.54,"p":0.077,"f":1.0047,"c":0},{"t":2972.71,"p":0.139,"f":1.0097,"c":0},{"t":2972.89,"p":0.202,"f":1.0083,"c":0},{"t":2973.07,"p":0.264,"f":1.0068,"c":0},{"t":2973.24,"p":0.327,"f":1.0058,"c":0},{"t":2973.42,"p":0.389,"f":1.0010,"c":0},{"t":2973.60,"p":0.452,"f":0.9947,"c":0},{"t":2973.78,"p":0.514,"f":0.9918,"c":0},{"t":2973.95,"p":0.577,"f":0.9856,"c":0},{"t":2974.13,"p":0.639,"f":0.9815,"c":0},{"t":2974.31,"p":0.702,"f":0.9829,"c":0},{"t":2974.48,"p":0.764,"f":0.9826,"c":0},{"t":2974.66,"p":0.827,"f":0.9869,"c":0},{"t":2974.84,"p":0.889,"f":0.9893,"c":0},{"t":2975.01,"p":0.952,"f":0.9955,"c":0},
{"t":2975.25,"p":0.035,"f":1.0002,"c":1},{"t":2975.43,"p":0.097,"f":1.0065,"c":1},{"t":2975.60,"p":0.160,"f":1.0075,"c":1},{"t":2975.78,"p":0.222,"f":1.0095,"c":1},{"t":2975.96,"p":0.285,"f":1.0067,"c":1},{"t":2976.13,"p":0.347,"f":1.0047,"c":1},{"t":2976.31,"p":0.410,"f":0.9978,"c":1},{"t":2976.49,"p":0.472,"f":0.9939,"c":1},{"t":2976.66,"p":0.535,"f":0.9878,"c":1},{"t":2976.84,"p":0.597,"f":0.9861,"c":1},{"t":2977.02,"p":0.660,"f":0.9823,"c":1},{"t":2977.19,"p":0.722,"f":0.9804,"c":1},{"t":2977.37,"p":0.785,"f":0.9840,"c":1},{"t":2977.55,"p":0.847,"f":0.9862,"c":1},{"t":2977.73,"p":0.910,"f":0.9903,"c":1},{"t":2977.90,"p":0.972,"f":0.9981,"c":1},
{"t":2978.14,"p":0.056,"f":1.0031,"c":2},{"t":2978.31,"p":0.118,"f":1.0047,"c":2},{"t":2978.49,"p":0.181,"f":1.0075,"c":2},{"t":2978.67,"p":0.243,"f":1.0079,"c":2},{"t":2978.85,"p":0.306,"f":1.0065,"c":2},{"t":2979.02,"p":0.368,"f":1.0004,"c":2},{"t":2979.20,"p":0.431,"f":0.9974,"c":2},{"t":2979.38,"p":0.493,"f":0.9895,"c":2},{"t":2979.55,"p":0.556,"f":0.9863,"c":2},{"t":2979.73,"p":0.618,"f":0.9822,"c":2},{"t":2979.91,"p":0.681,"f":0.9815,"c":2},{"t":2980.08,"p":0.743,"f":0.9825,"c":2},{"t":2980.26,"p":0.806,"f":0.9825,"c":2},{"t":2980.44,"p":0.868,"f":0.9873,"c":2},{"t":2980.61,"p":0.931,"f":0.9927,"c":2},{"t":2980.79,"p":0.993,"f":0.9959,"c":2},
{"t":2980.85,"p":0,"f":1.0000,"c":3},{"t":2981.03,"p":0.063,"f":1.0024,"c":3},{"t":2981.20,"p":0.125,"f":1.0065,"c":3},{"t":2981.38,"p":0.188,"f":1.0058,"c":3},{"t":2981.56,"p":0.25,"f":1.0073,"c":3},{"t":2981.73,"p":0.313,"f":1.0035,"c":3},{"t":2981.91,"p":0.375,"f":0.9988,"c":3},{"t":2982.09,"p":0.438,"f":0.9956,"c":3},{"t":2982.27,"p":0.5,"f":0.9877,"c":3},{"t":2982.44,"p":0.563,"f":0.9849,"c":3},{"t":2982.62,"p":0.625,"f":0.9812,"c":3},{"t":2982.80,"p":0.688,"f":0.9813,"c":3},{"t":2982.97,"p":0.75,"f":0.9805,"c":3},{"t":2983.15,"p":0.813,"f":0.9855,"c":3},{"t":2983.33,"p":0.875,"f":0.9871,"c":3},{"t":2983.50,"p":0.938,"f":0.9942,"c":3}
]},
"spacing": 123,
"bounds": "flush",
"hconcat": [
{
"width": 373, "height": 193,
"title": {"text": "0102725356", "fontSize": 20, "fontWeight": 200, "color": "#444", "font": "DejaVu Sans", "anchor": "middle", "frame": "group", "offset": 6},
"layer": [
{
"mark": {"type": "square", "size": 5, "color": "black", "opacity": 1, "clip": true},
"encoding": {
"x": {"field": "t", "type": "quantitative", "scale": {"domain": [2853.4, 2983.9], "nice": false, "zero": false},
"axis": {"orient": "bottom", "values": [2855,2860,2865,2870,2875,2880,2885,2890,2895,2900,2905,2910,2915,2920,2925,2930,2935,2940,2945,2950,2955,2960,2965,2970,2975,2980], "labelExpr": "datum.value % 20 === 0 ? format(datum.value, 'd') : ''", "title": "Time [d]", "domainColor": "#444", "tickColor": "#444", "labelPadding": 14, "titlePadding": 3}},
"y": {"field": "f", "type": "quantitative", "scale": {"domain": [0.975, 1.0212], "nice": false, "zero": false},
"axis": {"orient": "left", "values": [0.976,0.978,0.98,0.982,0.984,0.986,0.988,0.99,0.992,0.994,0.996,0.998,1,1.002,1.004,1.006,1.008,1.01,1.012,1.014,1.016,1.018,1.02], "labelExpr": "abs(datum.value*100 - round(datum.value*100)) < 0.01 ? format(datum.value, '.2f') : ''", "tickSize": {"condition": {"test": "abs(datum.value*100 - round(datum.value*100)) < 0.01", "value": -7}, "value": -3}, "title": "Flux/Flux_fit", "domainColor": "#444", "tickColor": "#444", "labelPadding": 12, "titlePadding": 8}}
}
},
{
"transform": [{"filter": "false"}],
"mark": {"type": "point", "opacity": 0},
"encoding": {
"x": {"field": "t", "type": "quantitative", "scale": {"domain": [2853.4, 2983.9], "nice": false, "zero": false},
"axis": {"orient": "top", "values": [2855,2860,2865,2870,2875,2880,2885,2890,2895,2900,2905,2910,2915,2920,2925,2930,2935,2940,2945,2950,2955,2960,2965,2970,2975,2980], "labels": false, "title": null, "domainColor": "#444", "tickColor": "#444"}},
"y": {"field": "f", "type": "quantitative", "scale": {"domain": [0.975, 1.0212], "nice": false, "zero": false},
"axis": {"orient": "right", "values": [0.976,0.978,0.98,0.982,0.984,0.986,0.988,0.99,0.992,0.994,0.996,0.998,1,1.002,1.004,1.006,1.008,1.01,1.012,1.014,1.016,1.018,1.02], "labels": false, "tickSize": {"condition": {"test": "abs(datum.value*100 - round(datum.value*100)) < 0.01", "value": -7}, "value": -3}, "title": null, "domainColor": "#444", "tickColor": "#444"}}
}
}
],
"resolve": {"axis": {"x": "independent", "y": "independent"}}
},
{
"width": 373, "height": 193,
"title": {"text": "P=\u00a0\u00a0\u00a0\u00a02.83", "fontSize": 20, "fontWeight": 200, "color": "#444", "font": "DejaVu Sans", "anchor": "middle", "frame": "group", "offset": 6},
"layer": [
{
"mark": {"type": "circle", "size": 8, "opacity": 1, "clip": true},
"encoding": {
"x": {"field": "p", "type": "quantitative", "scale": {"domain": [0, 2], "nice": false, "zero": false},
"axis": {"orient": "bottom", "values": [0,0.1,0.2,0.3,0.4,0.5,0.6,0.7,0.8,0.9,1,1.1,1.2,1.3,1.4,1.5,1.6,1.7,1.8,1.9,2], "labelExpr": "abs(datum.value*2 - round(datum.value*2)) < 0.01 ? format(datum.value, '.1f') : ''", "title": "Phase", "domainColor": "black", "domainWidth": 2, "tickColor": "black", "tickWidth": 2, "labelPadding": 14, "titlePadding": 3}},
"y": {"field": "f", "type": "quantitative", "scale": {"domain": [0.975, 1.0212], "nice": false, "zero": false},
"axis": {"orient": "left", "values": [0.976,0.978,0.98,0.982,0.984,0.986,0.988,0.99,0.992,0.994,0.996,0.998,1,1.002,1.004,1.006,1.008,1.01,1.012,1.014,1.016,1.018,1.02], "labelExpr": "abs(datum.value*100 - round(datum.value*100)) < 0.01 ? format(datum.value, '.2f') : ''", "tickSize": {"condition": {"test": "abs(datum.value*100 - round(datum.value*100)) < 0.01", "value": -7}, "value": -3}, "title": "Flux/Flux_fit", "domainColor": "black", "domainWidth": 2, "tickColor": "black", "tickWidth": 2, "labelPadding": 13, "titlePadding": 8}},
"color": {"field": "c", "type": "nominal", "scale": {"domain": [0,1,2,3,4,5], "range": ["#000000","#dd0000","#0000cc","#00dd00","#00dddd","#dd00dd"]}, "legend": null}
}
},
{
"mark": {"type": "circle", "size": 8, "opacity": 1, "clip": true},
"encoding": {
"x": {"field": "p", "type": "quantitative", "scale": {"domain": [-1, 1], "nice": false, "zero": false}, "axis": null},
"y": {"field": "f", "type": "quantitative", "scale": {"domain": [0.975, 1.0212], "nice": false, "zero": false}, "axis": null},
"color": {"field": "c", "type": "nominal", "scale": {"domain": [0,1,2,3,4,5], "range": ["#000000","#dd0000","#0000cc","#00dd00","#00dddd","#dd00dd"]}, "legend": null}
}
},
{
"transform": [{"filter": "false"}],
"mark": {"type": "point", "opacity": 0},
"encoding": {
"x": {"field": "p", "type": "quantitative", "scale": {"domain": [0, 2], "nice": false, "zero": false},
"axis": {"orient": "top", "values": [0,0.1,0.2,0.3,0.4,0.5,0.6,0.7,0.8,0.9,1,1.1,1.2,1.3,1.4,1.5,1.6,1.7,1.8,1.9,2], "labels": false, "title": null, "domainColor": "black", "domainWidth": 2, "tickColor": "black", "tickWidth": 2}},
"y": {"field": "f", "type": "quantitative", "scale": {"domain": [0.975, 1.0212], "nice": false, "zero": false},
"axis": {"orient": "right", "values": [0.976,0.978,0.98,0.982,0.984,0.986,0.988,0.99,0.992,0.994,0.996,0.998,1,1.002,1.004,1.006,1.008,1.01,1.012,1.014,1.016,1.018,1.02], "labels": false, "tickSize": {"condition": {"test": "abs(datum.value*100 - round(datum.value*100)) < 0.01", "value": -7}, "value": -3}, "title": null, "domainColor": "black", "domainWidth": 2, "tickColor": "black", "tickWidth": 2}}
}
}
],
"resolve": {"scale": {"x": "independent"}, "axis": {"x": "independent", "y": "independent"}}
}
]
}
